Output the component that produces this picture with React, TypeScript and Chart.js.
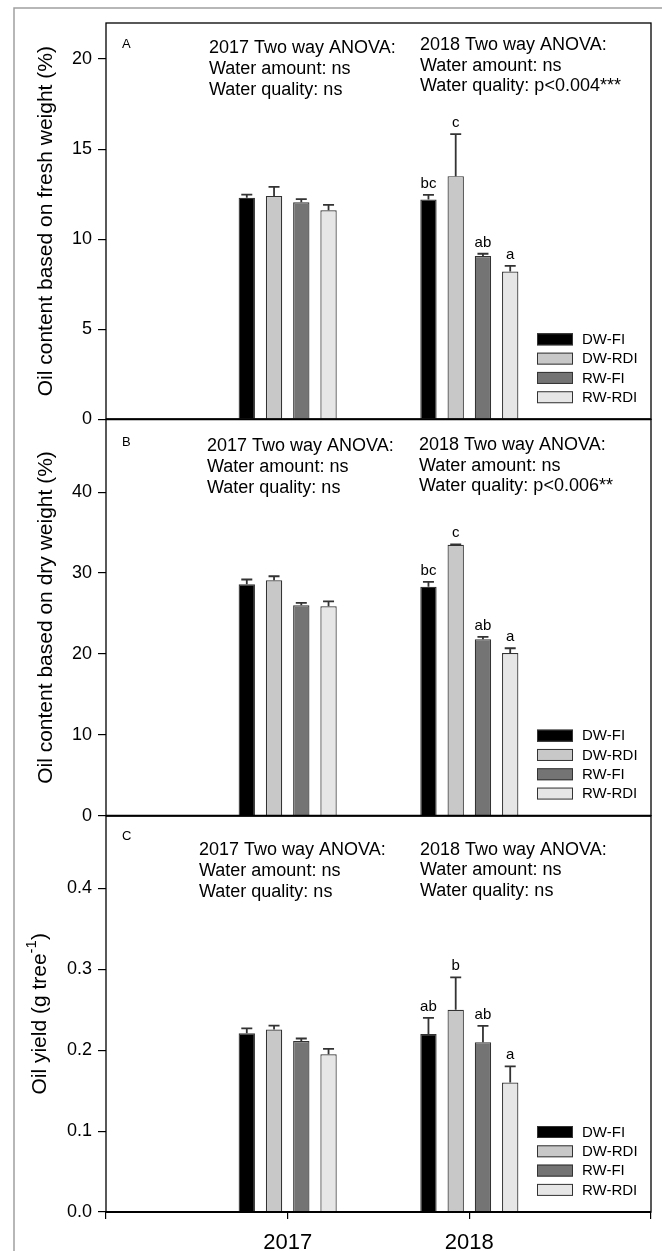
import React, { useEffect, useRef } from 'react';
import { Chart, registerables } from 'chart.js';

Chart.register(...registerables);

// ---------- data ----------
const yearLabels = ['', '2017', '2018', ''];
const seriesNames = ['DW-FI', 'DW-RDI', 'RW-FI', 'RW-RDI'];
const seriesColors = ['#000000', '#c8c8c8', '#747474', '#e6e6e6'];

// Panel A: oil content based on fresh weight (%)
const fresh2017 = [12.3, 12.4, 12.05, 11.6];
const freshErr2017 = [0.17, 0.5, 0.17, 0.3];
const fresh2018 = [12.2, 13.5, 9.06, 8.2];
const freshErr2018 = [0.26, 2.33, 0.13, 0.32];
const freshLetters2018 = ['bc', 'c', 'ab', 'a'];
const freshTicks = { min: 0, max: 22, step: 5 };

// Panel B: oil content based on dry weight (%)
const dry2017 = [28.6, 29.1, 26.0, 25.9];
const dryErr2017 = [0.6, 0.5, 0.3, 0.6];
const dry2018 = [28.3, 33.5, 21.8, 20.1];
const dryErr2018 = [0.6, 0.05, 0.3, 0.6];
const dryLetters2018 = ['bc', 'c', 'ab', 'a'];
const dryTicks = { min: 0, max: 49, step: 10 };

// Panel C: oil yield (g tree-1)
const yield2017 = [0.221, 0.2255, 0.2115, 0.195];
const yieldErr2017 = [0.006, 0.005, 0.003, 0.0067];
const yield2018 = [0.22, 0.25, 0.21, 0.16];
const yieldErr2018 = [0.02, 0.04, 0.02, 0.02];
const yieldLetters2018 = ['ab', 'b', 'ab', 'a'];
const yieldTicks = { min: 0, max: 0.49, step: 0.1 };

const anova2017 = ['2017 Two way ANOVA:', 'Water amount: ns', 'Water quality: ns'];
const anovaFresh2018 = ['2018 Two way ANOVA:', 'Water amount: ns', 'Water quality: p<0.004***'];
const anovaDry2018 = ['2018 Two way ANOVA:', 'Water amount: ns', 'Water quality: p<0.006**'];
const anovaYield2018 = ['2018 Two way ANOVA:', 'Water amount: ns', 'Water quality: ns'];

const FONT = '"Liberation Sans", Arial, Helvetica, sans-serif';

const panels = [
  {
    id: 'yA', tag: 'A', m17: fresh2017, e17: freshErr2017, m18: fresh2018, e18: freshErr2018,
    letters: freshLetters2018, ticks: freshTicks, decimals: 0, a17: anova2017, a18: anovaFresh2018,
    title: 'Oil content based on fresh weight (%)',
    t17: { dx: 103, dy: 30 }, t18: { dx: 314, dy: 27 }, tagDy: 21, titleX: 46,
  },
  {
    id: 'yB', tag: 'B', m17: dry2017, e17: dryErr2017, m18: dry2018, e18: dryErr2018,
    letters: dryLetters2018, ticks: dryTicks, decimals: 0, a17: anova2017, a18: anovaDry2018,
    title: 'Oil content based on dry weight (%)',
    t17: { dx: 101, dy: 32 }, t18: { dx: 313, dy: 31 }, tagDy: 23, titleX: 46,
  },
  {
    id: 'yC', tag: 'C', m17: yield2017, e17: yieldErr2017, m18: yield2018, e18: yieldErr2018,
    letters: yieldLetters2018, ticks: yieldTicks, decimals: 1, a17: anova2017, a18: anovaYield2018,
    title: null,
    t17: { dx: 93, dy: 39 }, t18: { dx: 314, dy: 39 }, tagDy: 21, titleX: 40,
  },
];

const overlay = {
  id: 'overlay',
  beforeDraw(chart: any) {
    const ctx = chart.ctx;
    ctx.save();
    ctx.fillStyle = '#ffffff';
    ctx.fillRect(0, 0, chart.width, chart.height);
    ctx.strokeStyle = '#a0a0a0';
    ctx.lineWidth = 1.5;
    ctx.beginPath();
    ctx.moveTo(14, chart.height);
    ctx.lineTo(14, 8);
    ctx.lineTo(chart.width, 8);
    ctx.stroke();
    ctx.restore();
  },
  afterDraw(chart: any) {
    const ctx = chart.ctx;
    const ca = chart.chartArea;
    panels.forEach((p, pi) => {
      const ys = chart.scales[p.id];
      ctx.save();
      // panel frame
      ctx.strokeStyle = '#000';
      ctx.lineWidth = 1.3;
      ctx.strokeRect(ca.left, ys.top, ca.right - ca.left, ys.bottom - ys.top);
      ctx.lineWidth = 2;
      ctx.beginPath();
      ctx.moveTo(ca.left, ys.bottom);
      ctx.lineTo(ca.right, ys.bottom);
      ctx.stroke();

      // error bars + letters
      for (let s = 0; s < 4; s++) {
        const meta = chart.getDatasetMeta(pi * 4 + s);
        [1, 2].forEach((i) => {
          const el = meta.data[i];
          if (!el) return;
          const mean = i === 1 ? p.m17[s] : p.m18[s];
          const err = i === 1 ? p.e17[s] : p.e18[s];
          const yTop = ys.getPixelForValue(mean);
          const yCap = ys.getPixelForValue(mean + err);
          ctx.strokeStyle = '#333';
          ctx.lineWidth = 1.8;
          ctx.beginPath();
          ctx.moveTo(el.x, yTop);
          ctx.lineTo(el.x, yCap);
          ctx.moveTo(el.x - 5.5, yCap);
          ctx.lineTo(el.x + 5.5, yCap);
          ctx.stroke();
          if (i === 2) {
            ctx.fillStyle = '#000';
            ctx.font = `15px ${FONT}`;
            ctx.textAlign = 'center';
            ctx.textBaseline = 'alphabetic';
            ctx.fillText(p.letters[s], el.x, yCap - 7);
          }
        });
      }

      // panel tag
      ctx.fillStyle = '#000';
      ctx.font = `13px ${FONT}`;
      ctx.textAlign = 'left';
      ctx.textBaseline = 'middle';
      ctx.fillText(p.tag, ca.left + 16, ys.top + p.tagDy);

      // ANOVA texts
      ctx.font = `18px ${FONT}`;
      ctx.textBaseline = 'alphabetic';
      p.a17.forEach((line, li) => ctx.fillText(line, ca.left + p.t17.dx, ys.top + p.t17.dy + li * 21));
      p.a18.forEach((line, li) => ctx.fillText(line, ca.left + p.t18.dx, ys.top + p.t18.dy + li * 20.5));

      // legend
      const lx = ca.left + 431;
      seriesNames.forEach((name, s) => {
        const top = ys.bottom - 86 + s * 19.3;
        ctx.fillStyle = seriesColors[s];
        ctx.fillRect(lx, top, 36, 12);
        ctx.strokeStyle = '#333';
        ctx.lineWidth = 1;
        ctx.strokeRect(lx + 0.5, top + 0.5, 35, 11);
        ctx.fillStyle = '#000';
        ctx.font = `15px ${FONT}`;
        ctx.textBaseline = 'middle';
        ctx.fillText(name, ca.left + 476, top + 6.5);
      });

      // y axis title
      const cy = (ys.top + ys.bottom) / 2;
      ctx.translate(p.titleX, cy);
      ctx.rotate(-Math.PI / 2);
      ctx.fillStyle = '#000';
      ctx.textBaseline = 'middle';
      if (p.title) {
        ctx.font = `21px ${FONT}`;
        ctx.textAlign = 'center';
        ctx.fillText(p.title, 0, 0);
      } else {
        const main = 'Oil yield (g tree';
        const sup = '-1';
        const end = ')';
        ctx.font = `21px ${FONT}`;
        const w1 = ctx.measureText(main).width;
        const w3 = ctx.measureText(end).width;
        ctx.font = `15px ${FONT}`;
        const w2 = ctx.measureText(sup).width;
        const total = w1 + w2 + w3;
        let x = -total / 2;
        ctx.textAlign = 'left';
        ctx.font = `21px ${FONT}`;
        ctx.fillText(main, x, 0);
        x += w1;
        ctx.font = `15px ${FONT}`;
        ctx.fillText(sup, x, -8);
        x += w2;
        ctx.font = `21px ${FONT}`;
        ctx.fillText(end, x, 0);
      }
      ctx.restore();
    });
  },
};

function yScale(t: { min: number; max: number; step: number }, decimals: number) {
  return {
    type: 'linear',
    position: 'left',
    stack: 'panels',
    stackWeight: 1,
    stacked: false,
    min: t.min,
    max: t.max,
    ticks: {
      stepSize: t.step,
      includeBounds: false,
      color: '#000',
      padding: 6,
      font: { size: 18, family: FONT },
      callback: (v: any) => Number(v).toFixed(decimals),
    },
    grid: { display: true, drawOnChartArea: false, drawTicks: true, tickLength: 8, color: '#000', lineWidth: 1.2 },
    border: { display: false },
    title: { display: false },
    afterFit: (s: any) => { s.width = 106; },
  };
}

export default function App() {
  const ref = useRef<HTMLCanvasElement>(null);
  useEffect(() => {
    const canvas = ref.current;
    if (!canvas) return;
    const datasets: any[] = [];
    panels.forEach((p) => {
      seriesNames.forEach((name, s) => {
        datasets.push({
          label: name,
          yAxisID: p.id,
          stack: 's' + s,
          data: [null, p.m17[s], p.m18[s], null],
          backgroundColor: seriesColors[s],
          borderColor: '#333',
          borderWidth: 1.2,
          categoryPercentage: 0.6,
          barPercentage: 0.6,
        });
      });
    });
    const chart = new Chart(canvas, {
      type: 'bar',
      data: { labels: yearLabels, datasets },
      options: {
        responsive: false,
        animation: false,
        layout: { padding: { top: 23, right: 9, left: 0, bottom: 0 } },
        plugins: { legend: { display: false }, tooltip: { enabled: false } },
        scales: {
          x: {
            type: 'category',
            position: 'bottom',
            offset: false,
            grid: { display: true, drawOnChartArea: false, drawTicks: true, tickLength: 7, color: '#000', offset: false, lineWidth: 1.2 },
            border: { display: false },
            ticks: { color: '#000', font: { size: 22, family: FONT }, padding: 11, autoSkip: false, maxRotation: 0 },
            afterFit: (s: any) => { s.height = 39; },
          },
          yC: yScale(yieldTicks, 1),
          yB: yScale(dryTicks, 0),
          yA: yScale(freshTicks, 0),
        } as any,
      },
      plugins: [overlay],
    } as any);
    return () => chart.destroy();
  }, []);
  return (
    <div style={{ position: 'absolute', left: 0, top: 0, width: 662, height: 1251, background: '#fff' }}>
      <canvas ref={ref} width={662} height={1251} style={{ display: 'block', width: 662, height: 1251 }} />
    </div>
  );
}
